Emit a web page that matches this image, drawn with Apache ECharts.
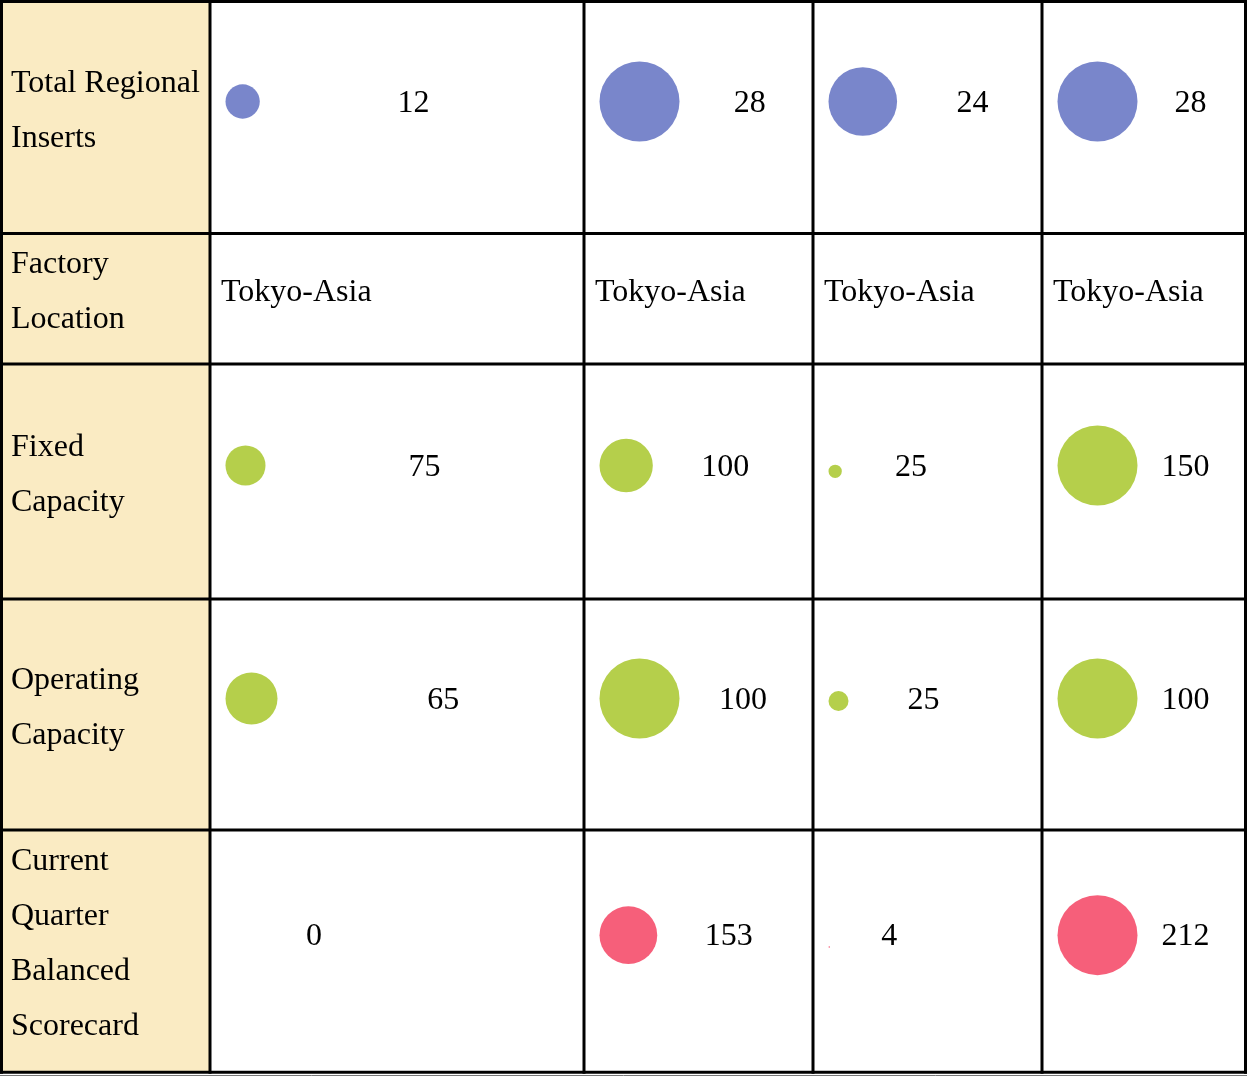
<!DOCTYPE html>
<html><head><meta charset="utf-8">
<script src="https://cdn.jsdelivr.net/npm/echarts@6/dist/echarts.min.js"></script>
<style>html,body{margin:0;padding:0;background:#fff}#chart{width:1247px;height:1076px}</style>
</head><body><div id="chart"></div>
<script>
// ---- data ----
const rowLabels = ['Total Regional\nInserts', 'Factory\nLocation', 'Fixed\nCapacity', 'Operating\nCapacity', 'Current\nQuarter\nBalanced\nScorecard'];
const totalRegionalInserts = [12, 28, 24, 28];
const factoryLocation = ['Tokyo-Asia', 'Tokyo-Asia', 'Tokyo-Asia', 'Tokyo-Asia'];
const fixedCapacity = [75, 100, 25, 150];
const operatingCapacity = [65, 100, 25, 100];
const balancedScorecard = [0, 153, 4, 212];

// ---- layout / style ----
const colEdges = [1.5, 210, 584, 813, 1042, 1245.5];
const rowEdges = [1.5, 233.5, 364, 599, 830, 1072.3];
const FONT_FAMILY = '"Liberation Serif","Times New Roman",serif';
const FS = 32;
const FONT = FS + 'px ' + FONT_FAMILY;
const MID = 0.3375 * FS; // baseline-to-middle offset
const MAXD = 80;
const rowColors = ['#7986CB', null, '#B5CF4B', '#B5CF4B', '#F65F7A'];
const rows = [totalRegionalInserts, factoryLocation, fixedCapacity, operatingCapacity, balancedScorecard];

const mctx = document.createElement('canvas').getContext('2d');
mctx.font = FONT;
function measure(t) { return mctx.measureText(t).width; }

// numeric cells
const cellData = [];
rows.forEach((arr, r) => {
  if (typeof arr[0] !== 'number') return;
  arr.forEach((v, c) => cellData.push([c, r, v]));
});
const textCells = [];
rows.forEach((arr, r) => {
  if (typeof arr[0] === 'number') return;
  arr.forEach((v, c) => textCells.push([c, r, v]));
});

function renderItem(params, api) {
  const c = api.value(0), r = api.value(1), v = api.value(2);
  const p0 = api.coord([colEdges[c + 1], rowEdges[r]]);
  const p1 = api.coord([colEdges[c + 2], rowEdges[r + 1]]);
  const cellW = p1[0] - p0[0];
  const cy = (p0[1] + p1[1]) / 2;
  const rowMax = Math.max.apply(null, rows[r]);
  const d = rowMax ? v / rowMax * MAXD : 0;
  const label = String(v);
  const tw = measure(label);
  const W = cellW - 30;
  const cw = W * (d + 8) / (d + 8 + tw + 10);
  const children = [];
  if (d > 0) {
    children.push({
      type: 'circle',
      shape: { cx: p0[0] + 15.5 + d / 2, cy: cy - 16 + Math.max(0, (25 - d) / 2), r: d / 2 },
      style: { fill: rowColors[r] }
    });
  }
  children.push({
    type: 'text',
    style: { text: label, x: p0[0] + 15 + cw, y: cy - 3.5 - MID, font: FONT, fill: '#000', align: 'left', verticalAlign: 'middle' }
  });
  return { type: 'group', children };
}

function renderText(params, api) {
  const c = api.value(0), r = api.value(1);
  const label = textCells[params.dataIndex][2];
  const p0 = api.coord([colEdges[c + 1], rowEdges[r]]);
  const p1 = api.coord([colEdges[c + 2], rowEdges[r + 1]]);
  const cy = (p0[1] + p1[1]) / 2;
  return {
    type: 'text',
    style: { text: label, x: p0[0] + 11, y: cy + 5 - MID, font: FONT, fill: '#000', align: 'left', verticalAlign: 'middle' }
  };
}

// graphic: background, row labels, grid lines
const graphics = [];
graphics.push({ type: 'rect', shape: { x: colEdges[0], y: rowEdges[0], width: colEdges[1] - colEdges[0], height: rowEdges[5] - rowEdges[0] }, style: { fill: '#FAEBC3' }, z: 0 });
rowLabels.forEach((lab, r) => {
  const lines = lab.split('\n');
  const cy = (rowEdges[r] + rowEdges[r + 1]) / 2;
  lines.forEach((ln, i) => {
    const base = cy - (lines.length - 1) * 27.5 + 4 + i * 55;
    graphics.push({ type: 'text', z: 5, style: { text: ln, x: 11, y: base - MID, font: FONT, fill: '#000', align: 'left', verticalAlign: 'middle' } });
  });
});
colEdges.forEach((x) => {
  graphics.push({ type: 'line', z: 10, shape: { x1: x, y1: rowEdges[0] - 1.5, x2: x, y2: rowEdges[5] + 1.5 }, style: { stroke: '#000', lineWidth: 3 } });
});
rowEdges.forEach((y) => {
  graphics.push({ type: 'line', z: 10, shape: { x1: colEdges[0] - 1.5, y1: y, x2: colEdges[5] + 1.5, y2: y }, style: { stroke: '#000', lineWidth: 3 } });
});
graphics.push({ type: 'line', z: 10, shape: { x1: 0, y1: 1075.5, x2: 1247, y2: 1075.5 }, style: { stroke: '#777', lineWidth: 1 } });

const chart = echarts.init(document.getElementById('chart'), null, { renderer: 'canvas' });
chart.setOption({
  animation: false,
  backgroundColor: '#fff',
  grid: { left: 0, right: 0, top: 0, bottom: 0 },
  xAxis: { type: 'value', min: 0, max: 1247, show: false },
  yAxis: { type: 'value', min: 0, max: 1076, inverse: true, show: false },
  graphic: graphics,
  series: [
    { type: 'custom', renderItem: renderItem, data: cellData, z: 3, silent: true },
    { type: 'custom', renderItem: renderText, data: textCells.map(t => [t[0], t[1]]), z: 3, silent: true }
  ]
});
</script>
</body></html>
